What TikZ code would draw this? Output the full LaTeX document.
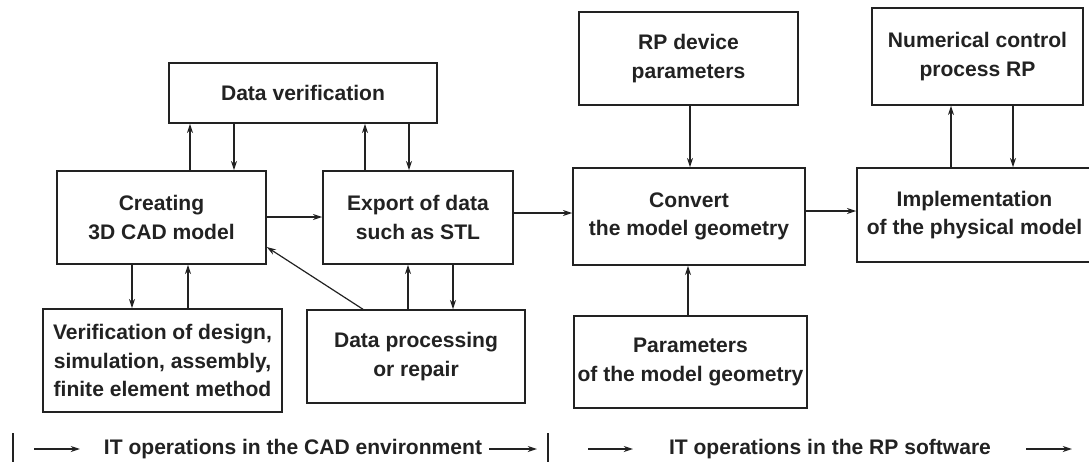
\documentclass[tikz,border=0pt]{standalone}
\usepackage{fontspec}
\setmainfont{Liberation Sans}
\usetikzlibrary{arrows.meta}
\definecolor{ink}{HTML}{222222}
\begin{document}
\begin{tikzpicture}[x=0.75pt,y=-0.75pt,
  box/.style={draw=ink, line width=1.1pt, fill=white, inner sep=0pt, align=center,
    font=\bfseries\fontsize{15.8}{21.4}\selectfont, text=ink},
  leg/.style={inner sep=0pt, font=\bfseries\fontsize{15.8}{21.4}\selectfont, text=ink},
  arr/.style={line width=0.9pt, draw=ink, -{Stealth[length=7pt,width=4.5pt]}},
  bar/.style={line width=1pt, draw=ink}
]
\useasboundingbox (0,0) rectangle (1089,462);
% boxes
\node[box, minimum width=201pt, minimum height=45pt] (dv) at (303,93) {Data verification};
\node[box, minimum width=156.75pt, minimum height=69.75pt] (cad) at (161.5,217.5) {Creating\\3D CAD model};
\node[box, minimum width=142.5pt, minimum height=69.75pt] (exp) at (418,217.5) {Export of data\\such as STL};
\node[box, minimum width=179.25pt, minimum height=77.25pt] (ver) at (162.5,360.5) {Verification of design,\\simulation, assembly,\\finite element method};
\node[box, minimum width=163.5pt, minimum height=69.75pt] (dp) at (416,356.5) {Data processing\\or repair};
\node[box, minimum width=164.25pt, minimum height=69.75pt] (rpd) at (688.5,58.5) {RP device\\parameters};
\node[box, minimum width=174pt, minimum height=72.75pt] (conv) at (689,216.5) {Convert\\the model geometry};
\node[box, minimum width=174.75pt, minimum height=69pt] (par) at (690.5,362) {Parameters\\of the model geometry};
\node[box, minimum width=158.25pt, minimum height=72.75pt] (nc) at (977.5,56.5) {Numerical control\\process RP};
\node[box, minimum width=176.25pt, minimum height=70.5pt] (impl) at (974.5,215) {Implementation\\of the physical model};
% helper coordinates
\coordinate (c132) at (132,0);
\coordinate (c188) at (188,0);
\coordinate (c190) at (190,0);
\coordinate (c234) at (234,0);
\coordinate (c363) at (363,0);
\coordinate (c365) at (365,0);
\coordinate (c408) at (408,0);
\coordinate (c409) at (409,0);
\coordinate (c453) at (453,0);
\coordinate (c688) at (688,0);
\coordinate (c690) at (690,0);
\coordinate (c951) at (951,0);
\coordinate (c1013) at (1013,0);
\coordinate (r217) at (0,217);
\coordinate (r213) at (0,213);
\coordinate (r211) at (0,211);
\coordinate (r247) at (0,247);
% connectors
\draw[arr] (c190 |- cad.north) -- (c190 |- dv.south);
\draw[arr] (c234 |- dv.south) -- (c234 |- cad.north);
\draw[arr] (c365 |- exp.north) -- (c365 |- dv.south);
\draw[arr] (c409 |- dv.south) -- (c409 |- exp.north);
\draw[arr] (cad.east |- r217) -- (exp.west |- r217);
\draw[arr] (exp.east |- r213) -- (conv.west |- r213);
\draw[arr] (conv.east |- r211) -- (impl.west |- r211);
\draw[arr] (c132 |- cad.south) -- (c132 |- ver.north);
\draw[arr] (c188 |- ver.north) -- (c188 |- cad.south);
\draw[arr] (c408 |- dp.north) -- (c408 |- exp.south);
\draw[arr] (c453 |- exp.south) -- (c453 |- dp.north);
\draw[arr] (c363 |- dp.north) -- (cad.east |- r247);
\draw[arr] (c690 |- rpd.south) -- (c690 |- conv.north);
\draw[arr] (c688 |- par.north) -- (c688 |- conv.south);
\draw[arr] (c951 |- impl.north) -- (c951 |- nc.south);
\draw[arr] (c1013 |- nc.south) -- (c1013 |- impl.north);
% legend
\coordinate (b1t) at (13,433);
\coordinate (b1b) at (13,462);
\coordinate (b2t) at (548,433);
\coordinate (b2b) at (548,462);
\draw[bar] (b1t) -- (b1b);
\draw[bar] (b2t) -- (b2b);
\node[leg] (t1) at (293,449) {IT operations in the CAD environment};
\node[leg] (t2) at (830,449) {IT operations in the RP software};
\coordinate (a1s) at (34,449);
\coordinate (a1e) at (80,449);
\coordinate (a2s) at (489,449);
\coordinate (a2e) at (537,449);
\coordinate (a3s) at (588,449);
\coordinate (a3e) at (633,449);
\coordinate (a4s) at (1026,449);
\coordinate (a4e) at (1072,449);
\draw[arr] (a1s) -- (a1e);
\draw[arr] (a2s) -- (a2e);
\draw[arr] (a3s) -- (a3e);
\draw[arr] (a4s) -- (a4e);
\end{tikzpicture}
\end{document}
